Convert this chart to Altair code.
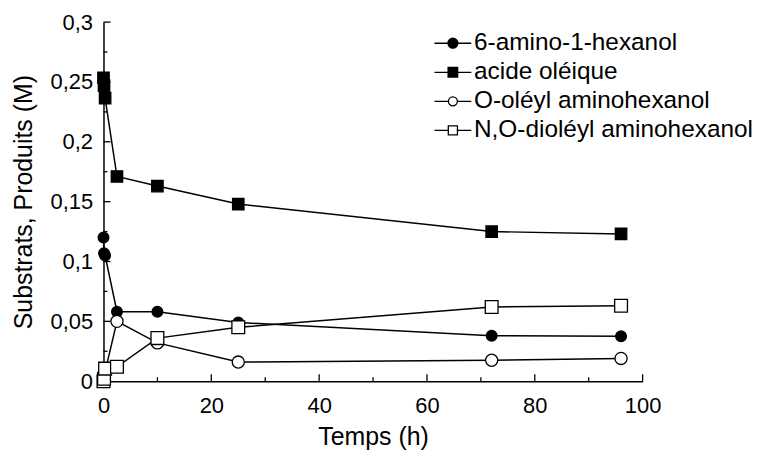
import altair as alt
import pandas as pd

series = ["6-amino-1-hexanol", "acide oléique", "O-oléyl aminohexanol", "N,O-dioléyl aminohexanol"]
time_h = [0, 0.1, 0.3, 2.5, 10, 25, 72, 96]
amino = [0.120, 0.107, 0.105, 0.058, 0.058, 0.049, 0.038, 0.0375]
oleique = [0.2535, 0.247, 0.2365, 0.171, 0.163, 0.148, 0.125, 0.123]
o_oleyl = [0.0, 0.002, 0.008, 0.050, 0.032, 0.016, 0.0175, 0.019]
no_dioleyl = [0.0, 0.002, 0.0105, 0.012, 0.036, 0.045, 0.062, 0.063]

x_major = [0, 20, 40, 60, 80, 100]
x_minor = [10, 30, 50, 70, 90]
y_major = [0, 0.05, 0.1, 0.15, 0.2, 0.25, 0.3]
y_minor = [0.025, 0.075, 0.125, 0.175, 0.225, 0.275]

values_by_series = [amino, oleique, o_oleyl, no_dioleyl]
rows = []
for name, vals in zip(series, values_by_series):
    for t, v in zip(time_h, vals):
        rows.append({"series": name, "t": t, "v": v})
df = pd.DataFrame(rows)

W, H = 542, 361
FONT = "Liberation Sans"

xscale = alt.Scale(domain=[0, 100], nice=False, padding=0)
yscale = alt.Scale(domain=[0, 0.3], nice=False, padding=0)

x_axis = alt.Axis(values=x_major, ticks=False, grid=False, domainColor="black", domainWidth=1.5,
                  labelFont=FONT, labelFontSize=22, labelColor="black", labelPadding=14,
                  labelFlush=False, labelOverlap=False,
                  title="Temps (h)", titleFont=FONT, titleFontSize=25, titleFontWeight="normal",
                  titleColor="black", titleBaseline="alphabetic", titleX=W / 2, titleY=64)
y_axis = alt.Axis(values=y_major, ticks=False, grid=False, domainColor="black", domainWidth=1.5,
                  labelFont=FONT, labelFontSize=22, labelColor="black", labelPadding=11,
                  labelFlush=False, labelOverlap=False,
                  labelExpr="replace(format(datum.value, '.2~f'), '.', ',')",
                  title="Substrats, Produits (M)", titleFont=FONT, titleFontSize=25,
                  titleFontWeight="normal", titleColor="black", titleBaseline="alphabetic",
                  titleAngle=270, titleX=-72, titleY=H / 2)


def X():
    return alt.X("t:Q", scale=xscale, axis=x_axis)


def Y():
    return alt.Y("v:Q", scale=yscale, axis=y_axis)


lines = alt.Chart(df).mark_line(color="black", strokeWidth=1.5).encode(
    x=X(), y=Y(), detail="series:N",
)

points = alt.Chart(df).mark_point(filled=True, stroke="black", strokeWidth=1.3, opacity=1).encode(
    x=X(), y=Y(),
    shape=alt.Shape("series:N", scale=alt.Scale(domain=series, range=["circle", "square", "circle", "square"]), legend=None),
    fill=alt.Fill("series:N", scale=alt.Scale(domain=series, range=["black", "black", "white", "white"]), legend=None),
    size=alt.Size("series:O", scale=alt.Scale(domain=series, range=[115, 165, 115, 165]), legend=None),
)

line_part = "M-1.85,0L-0.5,0M0.5,0L1.85,0"
circ_f = "M-0.5,0A0.5,0.5,0,1,0,0.5,0A0.5,0.5,0,1,0,-0.5,0Z"
sq_f = "M-0.48,-0.48H0.48V0.48H-0.48Z"
circ_o = "M-0.45,0A0.45,0.45,0,1,0,0.45,0A0.45,0.45,0,1,0,-0.45,0Z"
sq_o = "M-0.46,-0.46H0.46V0.46H-0.46Z"
legend_paths = [line_part + circ_f, line_part + sq_f,
                "M-1.85,0L-0.45,0M0.45,0L1.85,0" + circ_o,
                "M-1.85,0L-0.46,0M0.46,0L1.85,0" + sq_o]

legend = alt.Legend(title=None, orient="none", legendX=339, legendY=9, symbolSize=400,
                    labelFont=FONT, labelFontSize=24.5, labelColor="black", labelOffset=9,
                    labelLimit=500, rowPadding=4.2, padding=0, symbolStrokeWidth=1.3,
                    symbolStrokeColor="black", symbolOpacity=1)

legend_layer = alt.Chart(df).mark_point(filled=True, stroke="black", strokeWidth=1.3).encode(
    x=X(), y=Y(),
    shape=alt.Shape("series:N", scale=alt.Scale(domain=series, range=legend_paths), legend=legend),
    fill=alt.Fill("series:N", scale=alt.Scale(domain=series, range=["black", "black", "white", "white"]), legend=legend),
    stroke=alt.Stroke("series:N", scale=alt.Scale(domain=series, range=["black", "black", "black", "black"]), legend=legend),
).transform_filter("datum.v > 1")

tick_style = dict(color="black", strokeWidth=1.3)
y_major_ticks = alt.Chart(pd.DataFrame({"v": y_major})).mark_rule(**tick_style).encode(
    y=Y(), x=alt.value(0), x2=alt.value(7))
y_minor_ticks = alt.Chart(pd.DataFrame({"v": y_minor})).mark_rule(**tick_style).encode(
    y=Y(), x=alt.value(0), x2=alt.value(4))
x_major_ticks = alt.Chart(pd.DataFrame({"t": x_major})).mark_rule(**tick_style).encode(
    x=X(), y=alt.value(H), y2=alt.value(H - 7))
x_minor_ticks = alt.Chart(pd.DataFrame({"t": x_minor})).mark_rule(**tick_style).encode(
    x=X(), y=alt.value(H), y2=alt.value(H - 4))

chart = alt.layer(
    lines, y_major_ticks, y_minor_ticks, x_major_ticks, x_minor_ticks, points, legend_layer
).resolve_scale(
    shape="independent", fill="independent", size="independent", stroke="independent"
).properties(
    width=W, height=H,
    autosize=alt.AutoSizeParams(type="none"),
    padding={"left": 96, "top": 13, "right": 116, "bottom": 68},
).configure_view(stroke=None)

chart.save("out.html", embed_options={"renderer": "svg", "actions": False})
